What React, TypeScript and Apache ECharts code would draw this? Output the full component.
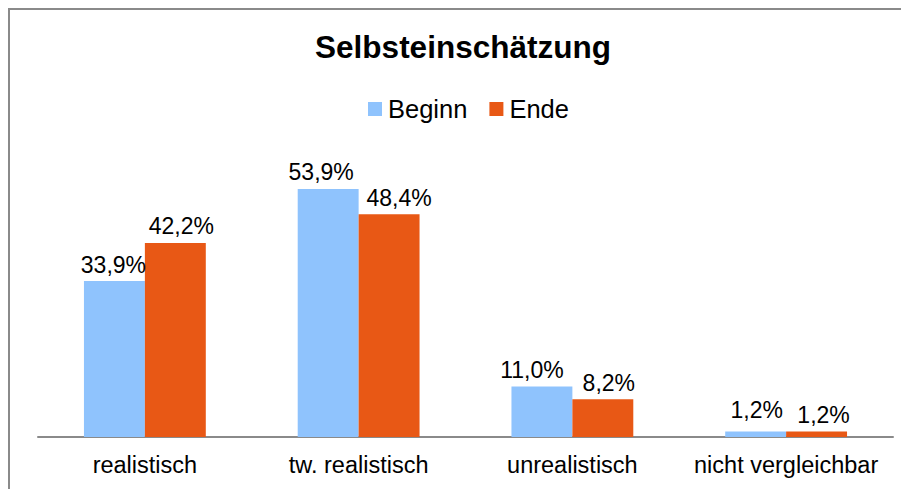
import React, { useEffect, useRef } from "react";
import * as echarts from "echarts";

const categories = ["realistisch", "tw. realistisch", "unrealistisch", "nicht vergleichbar"];
const beginnValues = [33.9, 53.9, 11.0, 1.2];
const endeValues = [42.2, 48.4, 8.2, 1.2];
const seriesNames = ["Beginn", "Ende"];
const titleText = "Selbsteinschätzung";

// label nudges (layout only) to mimic the original label placement
const beginnLabelOffsets = [[-1, 0], [-7, -1], [-10, 0], [1, -5]];
const endeLabelOffsets = [[6, 0], [10, 0], [6, 0], [7, 0]];

const FONT = "'Liberation Sans', Arial, sans-serif";
const fmt = (v: number) => v.toFixed(1).replace(".", ",") + "%";

export default function App() {
  const ref = useRef<HTMLDivElement>(null);
  useEffect(() => {
    if (!ref.current) return;
    const chart = echarts.init(ref.current, undefined, { renderer: "svg" });
    const label = {
      show: true,
      position: "top" as const,
      distance: 5,
      color: "#000",
      fontFamily: FONT,
      fontSize: 23,
      formatter: (p: any) => fmt(p.value),
    };
    const build = (vals: number[], offs: number[][]) =>
      vals.map((v, i) => ({ value: v, label: { offset: offs[i] } }));
    chart.setOption({
      animation: false,
      backgroundColor: "#fff",
      title: {
        text: titleText,
        left: 453,
        textAlign: "center",
        top: 21,
        padding: 0,
        textStyle: { fontFamily: FONT, fontSize: 31.5, fontWeight: "bold", color: "#000" },
      },
      legend: {
        data: seriesNames,
        left: 358,
        top: 86,
        padding: 0,
        itemWidth: 14,
        itemHeight: 14,
        itemGap: 22,
        icon: "rect",
        textStyle: { fontFamily: FONT, fontSize: 25.5, color: "#000", padding: [0, 0, 0, 1] },
      },
      grid: { left: 28, right: 16, top: 151, bottom: 52, containLabel: false },
      xAxis: {
        type: "category",
        data: categories,
        axisLine: { show: true, lineStyle: { color: "#8a8a8a", width: 2 } },
        axisTick: { show: false },
        axisLabel: { fontFamily: FONT, fontSize: 23.5, color: "#000", margin: 16, interval: 0 },
      },
      yAxis: {
        type: "value",
        min: 0,
        max: 60,
        show: false,
        splitLine: { show: false },
      },
      series: [
        {
          name: seriesNames[0],
          type: "bar",
          data: build(beginnValues, beginnLabelOffsets),
          barGap: "0%",
          barCategoryGap: "43%",
          itemStyle: { color: "#8FC3FD" },
          label,
        },
        {
          name: seriesNames[1],
          type: "bar",
          data: build(endeValues, endeLabelOffsets),
          barGap: "0%",
          barCategoryGap: "43%",
          itemStyle: { color: "#E85815" },
          label,
        },
      ],
    });
    return () => chart.dispose();
  }, []);
  return (
    <div
      style={{
        width: 901,
        height: 481,
        boxSizing: "border-box",
        borderTop: "2px solid #8a8a8a",
        borderLeft: "2px solid #8a8a8a",
        overflow: "hidden",
      }}
    >
      <div ref={ref} style={{ width: 899, height: 479 }} />
    </div>
  );
}
